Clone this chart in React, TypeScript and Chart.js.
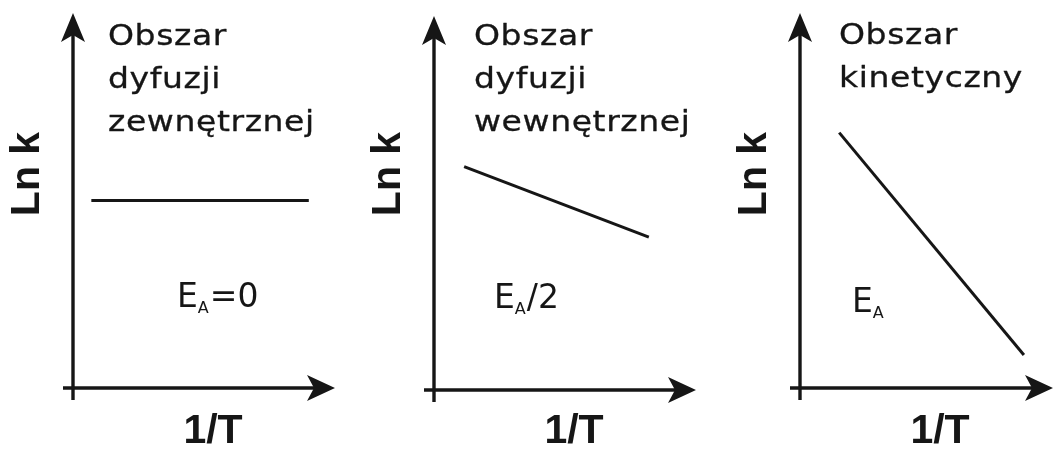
import React, { useEffect, useRef } from "react";
import { Chart, registerables } from "chart.js";

Chart.register(...registerables);

// ---- data ----
const panelTitles: string[][] = [
  ["Obszar", "dyfuzji", "zewnętrznej"],
  ["Obszar", "dyfuzji", "wewnętrznej"],
  ["Obszar", "kinetyczny"],
];
const energyMain = ["E", "E", "E"];
const energySub = ["A", "A", "A"];
const energyTail = ["=0", "/2", ""];
const yAxisTitle = "Ln k";
const xAxisTitle = "1/T";

const line1X = [0.7, 9.0];
const line1Y = [5.0, 5.0];
const line2X = [1.15, 8.2];
const line2Y = [5.97, 4.09];
const line3X = [1.55, 8.85];
const line3Y = [6.81, 0.88];

const seriesX = [line1X, line2X, line3X];
const seriesY = [line1Y, line2Y, line3Y];

// ---- layout (styles only) ----
const panelLayout = [
  { left: 0, pad: { left: 73, right: 16, top: 13, bottom: 62 }, titleDx: 35, eDx: 104, eBase: 307 },
  { left: 351, pad: { left: 83, right: 6, top: 16, bottom: 60 }, titleDx: 40, eDx: 60, eBase: 308 },
  { left: 702, pad: { left: 98, right: 0, top: 13, bottom: 62 }, titleDx: 39, eDx: 52, eBase: 312 },
];
const titleBaselines = [45, 88, 131];
const INK = "#161616";

function drawStretched(
  ctx: CanvasRenderingContext2D,
  text: string,
  x: number,
  y: number,
  sx: number,
  heavy = 0
) {
  ctx.save();
  ctx.translate(x, y);
  ctx.scale(sx, 1);
  ctx.fillText(text, 0, 0);
  if (heavy > 0) {
    ctx.lineWidth = heavy;
    ctx.lineJoin = "round";
    ctx.strokeText(text, 0, 0);
  }
  ctx.restore();
  return ctx.measureText(text).width * sx;
}

function makeDecorPlugin(i: number) {
  const lay = panelLayout[i];
  return {
    id: "decor" + i,
    afterDraw(chart: any) {
      const ctx = chart.ctx as CanvasRenderingContext2D;
      const { left, right, top, bottom } = chart.chartArea;
      ctx.save();
      ctx.strokeStyle = INK;
      ctx.fillStyle = INK;
      ctx.lineWidth = 3.4;
      ctx.lineCap = "butt";
      // y axis
      ctx.beginPath();
      ctx.moveTo(left, bottom + 12);
      ctx.lineTo(left, top + 20);
      ctx.stroke();
      ctx.beginPath();
      ctx.moveTo(left, top);
      ctx.lineTo(left - 12, top + 29);
      ctx.lineTo(left, top + 22);
      ctx.lineTo(left + 12, top + 29);
      ctx.closePath();
      ctx.fill();
      // x axis
      ctx.beginPath();
      ctx.moveTo(left - 10, bottom);
      ctx.lineTo(right - 20, bottom);
      ctx.stroke();
      ctx.beginPath();
      ctx.moveTo(right, bottom);
      ctx.lineTo(right - 28, bottom - 13);
      ctx.lineTo(right - 21, bottom);
      ctx.lineTo(right - 28, bottom + 13);
      ctx.closePath();
      ctx.fill();

      // titles
      ctx.font = "28px 'DejaVu Sans'";
      ctx.textAlign = "left";
      ctx.textBaseline = "alphabetic";
      (ctx as any).letterSpacing = "0.5px";
      panelTitles[i].forEach((t, k) => {
        drawStretched(ctx, t, left + lay.titleDx, titleBaselines[k] - (i === 2 ? 1 : 0), 1.18, 0.3);
      });
      (ctx as any).letterSpacing = "0px";

      // energy label
      let ex = left + lay.eDx;
      ctx.font = "33px 'DejaVu Sans'";
      ex += drawStretched(ctx, energyMain[i], ex, lay.eBase, 1.0);
      ctx.font = "16px 'DejaVu Sans'";
      ex += drawStretched(ctx, energySub[i], ex, lay.eBase + 6, 1.0) + 1;
      ctx.font = "33px 'DejaVu Sans'";
      if (energyTail[i]) drawStretched(ctx, energyTail[i], ex, lay.eBase, 1.0);

      // axis titles
      ctx.font = "bold 41px 'Liberation Sans'";
      ctx.textAlign = "center";
      ctx.fillText(xAxisTitle, left + 140, 443);
      ctx.save();
      ctx.translate(left - 45, 174);
      ctx.rotate(-Math.PI / 2);
      ctx.textBaseline = "middle";
      ctx.fillText(yAxisTitle, 0, 0);
      ctx.restore();
      ctx.restore();
    },
  };
}

function Panel({ index }: { index: number }) {
  const ref = useRef<HTMLCanvasElement | null>(null);
  useEffect(() => {
    if (!ref.current) return;
    const lay = panelLayout[index];
    const xs = seriesX[index];
    const ys = seriesY[index];
    const chart = new Chart(ref.current, {
      type: "scatter",
      data: {
        datasets: [
          {
            data: xs.map((x, k) => ({ x, y: ys[k] })),
            showLine: true,
            borderColor: INK,
            borderWidth: 3,
            pointRadius: 0,
            fill: false,
          },
        ],
      },
      options: {
        responsive: false,
        animation: false,
        layout: { padding: lay.pad },
        plugins: { legend: { display: false }, tooltip: { enabled: false } },
        scales: {
          x: { type: "linear", min: 0, max: 10, display: false },
          y: { type: "linear", min: 0, max: 10, display: false },
        },
      },
      plugins: [makeDecorPlugin(index)],
    } as any);
    return () => chart.destroy();
  }, [index]);
  const lay = panelLayout[index];
  return (
    <canvas
      ref={ref}
      width={351}
      height={450}
      style={{ position: "absolute", left: lay.left, top: 0, width: 351, height: 450 }}
    />
  );
}

export default function App() {
  useEffect(() => {
    document.body.style.margin = "0";
  }, []);
  return (
    <div style={{ position: "relative", width: 1053, height: 450, background: "#fff", overflow: "hidden" }}>
      <Panel index={0} />
      <Panel index={1} />
      <Panel index={2} />
    </div>
  );
}
